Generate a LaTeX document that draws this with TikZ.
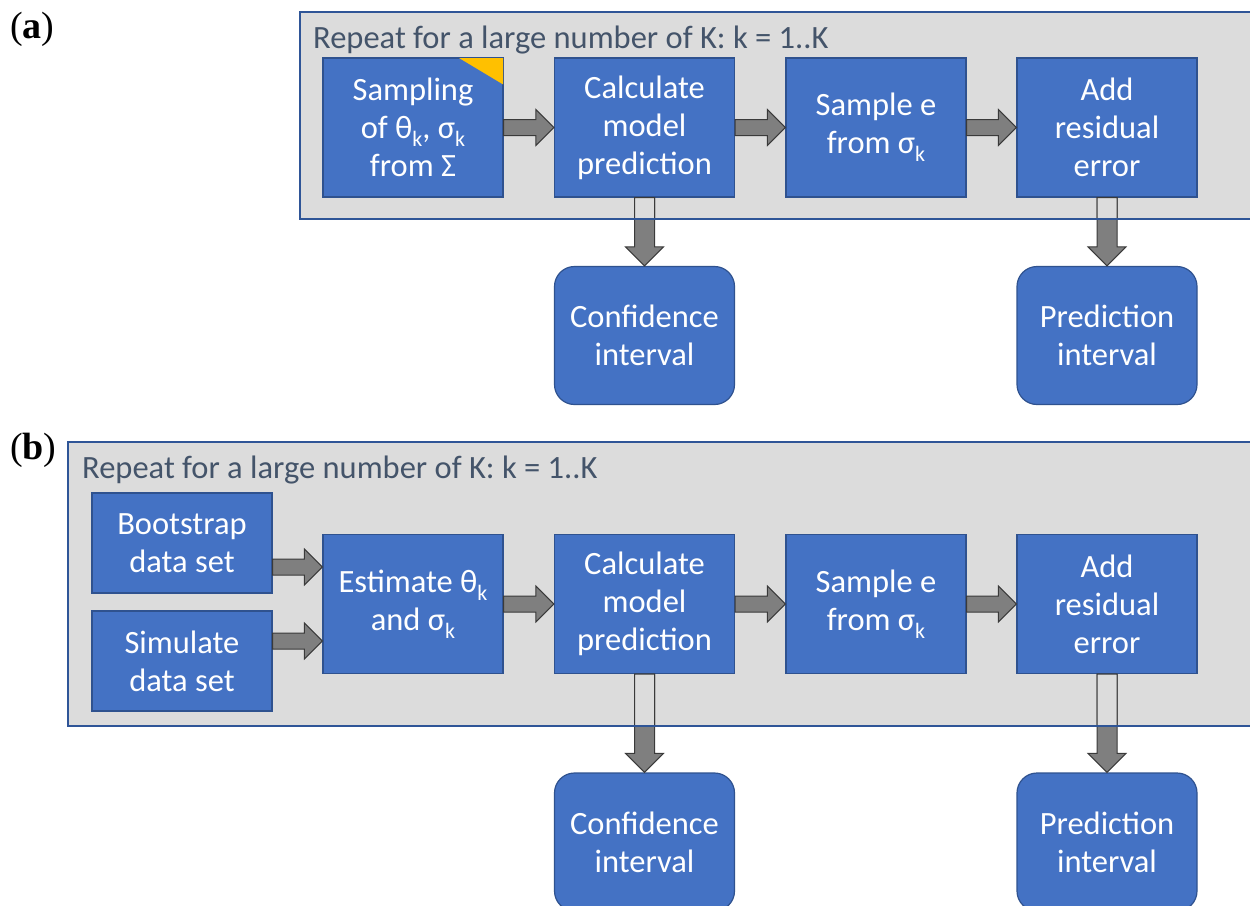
\documentclass[tikz,border=0pt]{standalone}
\usepackage{fontspec}
\setmainfont{Carlito}
\newfontfamily\panelfont{Liberation Serif}
\usetikzlibrary{calc}

\definecolor{boxblue}{HTML}{4472C4}
\definecolor{boxedge}{HTML}{2F528F}
\definecolor{framegrey}{HTML}{DCDCDC}
\definecolor{frameedge}{HTML}{2F5597}
\definecolor{arrowgrey}{HTML}{7F7F7F}
\definecolor{arrowedge}{HTML}{3A3A3A}
\definecolor{titlegrey}{HTML}{44546A}
\definecolor{cornergold}{HTML}{FFC000}

% lowered subscript k
\newcommand\subk{\raisebox{-0.24em}{\fontsize{22}{22}\selectfont k}}
% panel tag: light parentheses around a bold letter
\newcommand\paneltag[1]{{\mdseries(}\textbf{#1}{\mdseries)}}

% horizontal block arrow between two points
\newcommand\rightblock[3][]{%
  \filldraw[blockarrow,#1] let \p1=(#2), \p2=(#3) in
    (\x1,\y1+8pt) -- (\x2-18pt,\y1+8pt) -- (\x2-18pt,\y1+18pt) -- (\x2,\y1)
    -- (\x2-18pt,\y1-18pt) -- (\x2-18pt,\y1-8pt) -- (\x1,\y1-8pt) -- cycle;}
% vertical block arrow pointing down
\newcommand\downblock[3][]{%
  \filldraw[blockarrow,#1] let \p1=(#2), \p2=(#3) in
    (\x1-10pt,\y1) -- (\x1-10pt,\y2+19pt) -- (\x1-19pt,\y2+19pt) -- (\x1,\y2)
    -- (\x1+19pt,\y2+19pt) -- (\x1+10pt,\y2+19pt) -- (\x1+10pt,\y1) -- cycle;}

\tikzset{
  stepbox/.style={draw=boxedge, line width=1.2pt, fill=boxblue, text=white,
    minimum width=180pt, minimum height=139pt, inner sep=0pt, align=center,
    font=\fontsize{32.5}{38}\selectfont},
  outbox/.style={stepbox, rounded corners=20pt, minimum height=138pt},
  framebox/.style={fill=framegrey, inner sep=0pt, anchor=north west},
  frameline/.style={draw=frameedge, line width=2pt},
  blockarrow/.style={fill=arrowgrey, draw=arrowedge, line width=1pt},
  frametitle/.style={anchor=base west, inner sep=0pt, text=titlegrey,
    font=\fontsize{32.5}{38}\selectfont},
  panellabel/.style={anchor=base west, inner sep=0pt,
    font=\panelfont\fontsize{38}{40}\selectfont},
}

\begin{document}
\begin{tikzpicture}[x=1pt, y=-1pt]
\useasboundingbox (0,0) rectangle (1250,905);
\fill[white] (0,0) rectangle (1250,905);
\clip (0,0) rectangle (1250,905);

% ---------- panel (a) ----------
\node[panellabel] (labA) at (10,38) {\paneltag{a}};
\node[framebox, minimum width=962pt, minimum height=207pt] (frameA) at (300,12) {};
\node[frametitle] (titleA) at (313,48) {Repeat for a large number of K: k = 1..K};

\node[stepbox] (sampA) at (413,127.5) {Sampling\\of θ\subk, σ\subk\\from Σ};
\node[stepbox] (calcA) at (644.5,127.5) {Calculate\\model\\prediction};
\node[stepbox] (errA)  at (876,127.5) {Sample e\\from σ\subk};
\node[stepbox] (addA)  at (1107,127.5) {Add\\residual\\error};
\node[outbox]  (confA) at (644.5,335.5) {Confidence\\interval};
\node[outbox]  (predA) at (1107,335.5) {Prediction\\interval};

\fill[cornergold] ($(sampA.north east)+(-0.6,0.6)$) -- ++(-44,0)
  -- ($(sampA.north east)+(-0.6,27)$) -- cycle;

\rightblock{sampA.east}{calcA.west}
\rightblock{calcA.east}{errA.west}
\rightblock{errA.east}{addA.west}

\downblock{calcA.south}{confA.north}
\downblock{addA.south}{predA.north}
\begin{scope}
  \clip (frameA.north west) rectangle (frameA.south east);
  \downblock[fill=framegrey]{calcA.south}{confA.north}
  \downblock[fill=framegrey]{addA.south}{predA.north}
\end{scope}
\draw[frameline] (frameA.north west) rectangle (frameA.south east);

% ---------- panel (b) ----------
\node[panellabel] (labB) at (10,459) {\paneltag{b}};
\node[framebox, minimum width=1194pt, minimum height=284pt] (frameB) at (68,442) {};
\node[frametitle] (titleB) at (82,478) {Repeat for a large number of K: k = 1..K};

\node[stepbox, minimum height=100pt] (bootB) at (182,543) {Bootstrap\\data set};
\node[stepbox, minimum height=100pt] (simB)  at (182,661) {Simulate\\data set};
\node[stepbox] (estB)  at (413,604) {Estimate θ\subk\\and σ\subk};
\node[stepbox] (calcB) at (644.5,604) {Calculate\\model\\prediction};
\node[stepbox] (errB)  at (876,604) {Sample e\\from σ\subk};
\node[stepbox] (addB)  at (1107,604) {Add\\residual\\error};
\node[outbox]  (confB) at (644.5,842) {Confidence\\interval};
\node[outbox]  (predB) at (1107,842) {Prediction\\interval};

\coordinate (bootIn) at ($(estB.west)+(0,-37)$);
\coordinate (simIn)  at ($(estB.west)+(0,37)$);
\rightblock{bootB.east |- bootIn}{bootIn}
\rightblock{simB.east |- simIn}{simIn}
\rightblock{estB.east}{calcB.west}
\rightblock{calcB.east}{errB.west}
\rightblock{errB.east}{addB.west}

\downblock{calcB.south}{confB.north}
\downblock{addB.south}{predB.north}
\begin{scope}
  \clip (frameB.north west) rectangle (frameB.south east);
  \downblock[fill=framegrey]{calcB.south}{confB.north}
  \downblock[fill=framegrey]{addB.south}{predB.north}
\end{scope}
\draw[frameline] (frameB.north west) rectangle (frameB.south east);
\end{tikzpicture}
\end{document}
